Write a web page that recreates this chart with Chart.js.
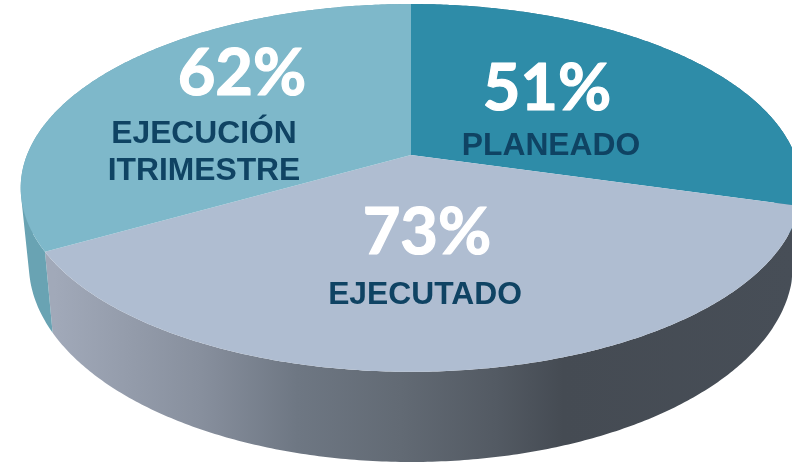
<!DOCTYPE html>
<html lang="es">
<head>
  <meta charset="UTF-8" />
  <title>Ejecución</title>
  <script src="https://cdn.jsdelivr.net/npm/chart.js"></script>
  <style>
    html, body { margin: 0; padding: 0; background: #fff; overflow: hidden; }
    canvas { display: block; }
  </style>
</head>
<body>
  <canvas id="pie" width="792" height="463"></canvas>
<script>
const categories = ["PLANEADO", "EJECUTADO", "EJECUCIÓN ITRIMESTRE"];
const percentValues = [51, 73, 62];
// slice sizes (degrees), the drawn slices are not
// exactly proportional to the printed percentages
const sliceDegrees = [105.8, 134.5, 119.7];

const topColors = ["#2e8ca8", "#afbdd1", "#7eb8ca"];

// where the text goes: centre x and baseline of percent, centre x and baseline of label
const textSpots = [
  { pctX: 547, pctY: 110, labelX: 551, labelY: 155 },
  { pctX: 427, pctY: 254, labelX: 425, labelY: 304 },
  { pctX: 242, pctY: 95, labelX: 204, labelY: 143 }
];

// perspective of the tilted disc: unit circle -> screen
const tilt = -0.179;
const topFace = { x: 411, y: 155, kx: 384, ky: 178 };
const bottomFace = { x: 411, y: 228.5, kx: 376, ky: 191.7 };

function project(face, angle) {
  const cx = Math.cos(angle), cy = Math.sin(angle);
  const w = 1 + tilt * cy;
  return [face.x + face.kx * cx / w, face.y + face.ky * cy / w];
}

function arcPoints(face, start, end) {
  const pts = [];
  const steps = Math.max(2, Math.ceil((end - start) / 0.01));
  for (let i = 0; i <= steps; i++) {
    pts.push(project(face, start + (end - start) * i / steps));
  }
  return pts;
}

function tracePath(ctx, pts) {
  pts.forEach(p => ctx.lineTo(p[0], p[1]));
}

function signedArea(q) {
  let sum = 0;
  q.forEach((p, i) => {
    const r = q[(i + 1) % q.length];
    sum += p[0] * r[1] - r[0] * p[1];
  });
  return sum;
}

const tiltedPie = {
  id: "tiltedPie",
  beforeDatasetsDraw(chart) {
    const ctx = chart.ctx;
    const arcs = chart.getDatasetMeta(0).data;

    const front = ctx.createLinearGradient(54, 0, 792, 0);
    front.addColorStop(0, "#a1a9b9");
    front.addColorStop(0.2, "#878f9d");
    front.addColorStop(0.33, "#6e7783");
    front.addColorStop(0.47, "#626a74");
    front.addColorStop(0.6, "#535a63");
    front.addColorStop(0.69, "#454b53");
    front.addColorStop(1, "#474e57");

    const wallColors = ["#24708a", front, "#69a3b3"];

    // walls first, top face goes over them. one path of small quads, all
    // wound the same way, so the outline follows the tangent between the faces
    arcs.forEach((arc, i) => {
      const a = arcPoints(topFace, arc.startAngle, arc.endAngle);
      const b = arcPoints(bottomFace, arc.startAngle, arc.endAngle);
      ctx.beginPath();
      for (let n = 0; n < a.length - 1; n++) {
        const quad = [a[n], a[n + 1], b[n + 1], b[n]];
        if (signedArea(quad) < 0) quad.reverse();
        ctx.moveTo(quad[0][0], quad[0][1]);
        tracePath(ctx, quad.slice(1));
        ctx.closePath();
      }
      ctx.fillStyle = wallColors[i];
      ctx.fill();
    });

    arcs.forEach((arc, i) => {
      ctx.beginPath();
      ctx.moveTo(topFace.x, topFace.y);
      tracePath(ctx, arcPoints(topFace, arc.startAngle, arc.endAngle));
      ctx.closePath();
      ctx.fillStyle = arc.options.backgroundColor;
      ctx.fill();
    });

    ctx.textAlign = "center";
    ctx.textBaseline = "alphabetic";
    categories.forEach((name, i) => {
      const spot = textSpots[i];
      ctx.fillStyle = "#ffffff";
      ctx.strokeStyle = "#ffffff";
      ctx.lineWidth = 1.2;
      ctx.lineJoin = "round";
      ctx.font = "bold 65px Lato";
      ctx.fillText(percentValues[i] + "%", spot.pctX, spot.pctY);
      ctx.strokeText(percentValues[i] + "%", spot.pctX, spot.pctY);
      ctx.fillStyle = "#0f4363";
      ctx.font = "bold 31.8px 'Liberation Sans'";
      name.split(" ").forEach((line, n) => {
        ctx.fillText(line, spot.labelX, spot.labelY + n * 37);
      });
    });
    return false;
  }
};

new Chart(document.getElementById("pie").getContext("2d"), {
  type: "pie",
  data: {
    labels: categories,
    datasets: [{
      data: sliceDegrees,
      backgroundColor: topColors,
      borderWidth: 0
    }]
  },
  options: {
    responsive: false,
    animation: false,
    events: [],
    plugins: {
      legend: { display: false },
      tooltip: { enabled: false }
    }
  },
  plugins: [tiltedPie]
});
</script>
</body>
</html>
